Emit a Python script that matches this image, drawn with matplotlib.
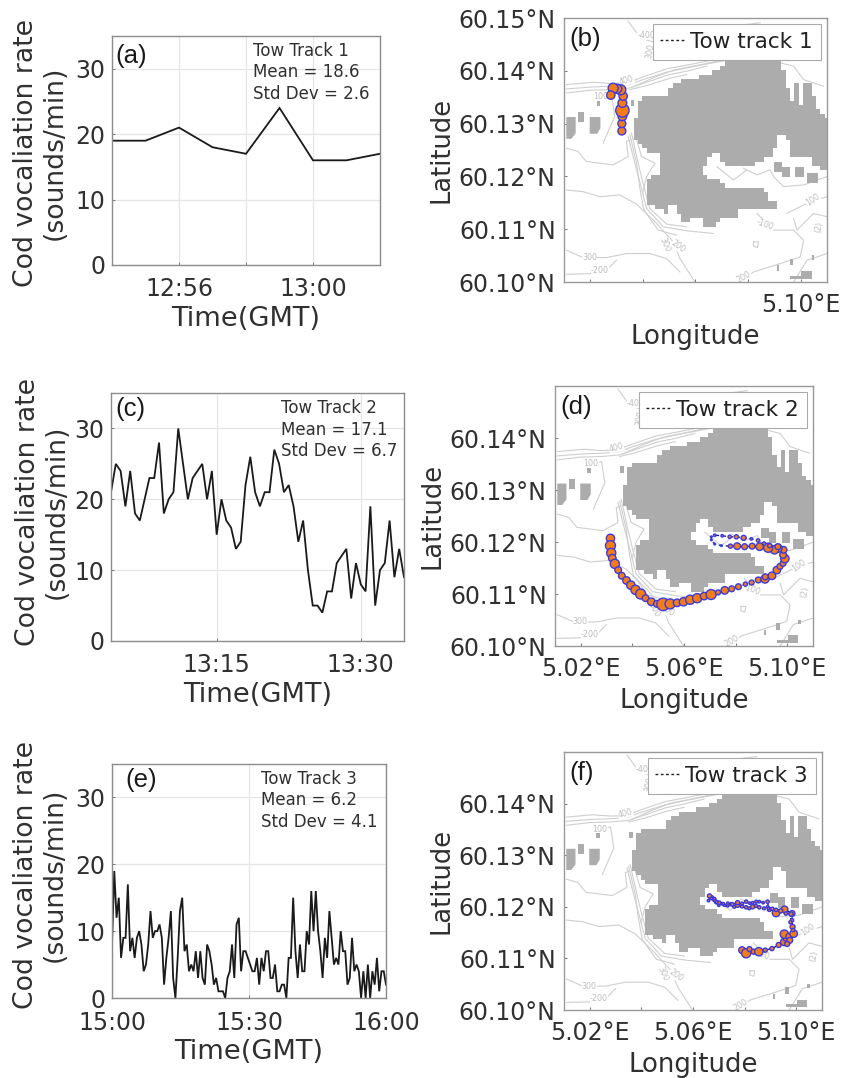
import numpy as np
import matplotlib
matplotlib.use("Agg")
import matplotlib.pyplot as plt
from matplotlib.patches import Polygon
from matplotlib.path import Path
from matplotlib.colors import ListedColormap

plt.rcParams['font.family'] = ['DejaVu Sans']
W, H = 842, 1078
TXT = '#303030'

# ---------- vocalisation-rate series ----------
rate1 = [19, 19, 21, 18, 17, 24, 16, 16, 17]
rate2 = [21, 25, 24, 19, 24, 18, 17, 20, 23, 23, 28, 18, 20, 21, 30, 25, 20, 23, 24, 25, 20, 24,
         15, 20, 17, 16, 13, 14, 22, 26, 21, 19, 21, 21, 27, 25, 21, 22, 19, 14, 17, 10, 5, 5, 4,
         7, 7, 11, 12, 13, 6, 11, 8, 7, 19, 5, 10, 11, 17, 9, 13, 9]
rate3 = [8, 19, 12, 15, 6, 9, 9, 17, 7, 9, 6, 9, 10, 8, 4, 5, 8, 13, 9, 10, 10, 11, 9, 2, 6, 9, 13,
         3, 0, 6, 13, 15, 7, 8, 4, 5, 4, 7, 3, 7, 3, 2, 8, 7, 5, 2, 3, 1, 1, 1, 0, 3, 4, 8, 3, 11,
         12, 4, 7, 7, 6, 5, 4, 4, 6, 2, 6, 4, 7, 7, 3, 3, 5, 1, 1, 2, 2, 0, 6, 6, 15, 7, 3, 8, 4,
         4, 10, 8, 16, 10, 16, 10, 7, 3, 9, 6, 13, 9, 5, 6, 5, 10, 7, 7, 2, 3, 9, 4, 5, 4, 0, 4,
         0, 5, 0, 4, 2, 6, 1, 4, 4, 2]
start_min = [12 * 60 + 54, 13 * 60 + 4, 15 * 60]
end_min = [13 * 60 + 2, 13 * 60 + 34.5, 16 * 60]
grid_min = [[12 * 60 + 56, 12 * 60 + 58, 13 * 60], [13 * 60 + 15, 13 * 60 + 30], [15 * 60, 15 * 60 + 30, 16 * 60]]
tick_min = [[12 * 60 + 56, 13 * 60], [13 * 60 + 15, 13 * 60 + 30], [15 * 60, 15 * 60 + 30, 16 * 60]]
stats = ["Tow Track 1\nMean = 18.6\nStd Dev = 2.6",
         "Tow Track 2\nMean = 17.1\nStd Dev = 6.7",
         "Tow Track 3\nMean = 6.2\nStd Dev = 4.1"]

# ---------- tow tracks: lon, lat, rate shown by bubble size ----------
t1_lon = [5.0320, 5.0320, 5.0322, 5.0322, 5.0322, 5.0325, 5.0316, 5.0302, 5.0287, 5.0278]
t1_lat = [60.1286, 60.1300, 60.1314, 60.1325, 60.1339, 60.1352, 60.1364, 60.1366, 60.1367, 60.1354]
t1_rate = [19, 19, 21, 32, 21, 20, 24, 22, 24, 20]

t2_lon = [5.0315, 5.0315, 5.0318, 5.0322, 5.0332, 5.0345, 5.0359, 5.0377, 5.0394, 5.0412, 5.0432,
          5.0451, 5.0473, 5.0495, 5.0519, 5.0546, 5.0573, 5.0598, 5.0624, 5.0651, 5.0678, 5.0705,
          5.0732, 5.0758, 5.0785, 5.0811, 5.0838, 5.0862, 5.0888, 5.0914, 5.0915, 5.0941, 5.0960,
          5.0972, 5.0984, 5.0991, 5.0984, 5.0986, 5.0964, 5.0951, 5.0926, 5.0893, 5.0864, 5.0835,
          5.0806, 5.0780, 5.0745, 5.0719, 5.0706, 5.0706, 5.0719, 5.0748, 5.0777, 5.0803, 5.0831,
          5.0861, 5.0887, 5.0910, 5.0932, 5.0964]
t2_lat = [60.1207, 60.1193, 60.1179, 60.1169, 60.1158, 60.1146, 60.1135, 60.1126, 60.1117, 60.1108,
          60.1100, 60.1092, 60.1085, 60.1081, 60.1080, 60.1081, 60.1083, 60.1085, 60.1089, 60.1092,
          60.1096, 60.1099, 60.1103, 60.1107, 60.1110, 60.1114, 60.1119, 60.1122, 60.1127, 60.1129,
          60.1133, 60.1135, 60.1146, 60.1153, 60.1159, 60.1168, 60.1175, 60.1185, 60.1188, 60.1185,
          60.1189, 60.1191, 60.1192, 60.1191, 60.1192, 60.1192, 60.1193, 60.1196, 60.1204, 60.1210,
          60.1213, 60.1212, 60.1210, 60.1210, 60.1208, 60.1206, 60.1203, 60.1197, 60.1193, 60.1191]
t2_rate = [20, 24, 22, 18, 22, 16, 16, 18, 20, 22, 24, 16, 18, 16, 30, 24, 18, 20, 22, 22, 18, 24,
           12, 18, 14, 14, 10, 12, 14, 20, 14, 18, 18, 14, 14, 20, 16, 16, 20, 20, 22, 18, 14, 14,
           16, 10, 4, 4, 4, 4, 6, 6, 8, 10, 12, 6, 8, 8, 10, 14]

t3_lon = [5.0790, 5.0806, 5.0819, 5.0835, 5.0855, 5.0880, 5.0906, 5.0932, 5.0954, 5.0960, 5.0954,
          5.0973, 5.0990, 5.0986, 5.0984, 5.0984, 5.0955, 5.0922, 5.0896, 5.0889, 5.0875, 5.0857,
          5.0843, 5.0831, 5.0818, 5.0806, 5.0790, 5.0773, 5.0760, 5.0748, 5.0735, 5.0722, 5.0712,
          5.0700, 5.0690, 5.0683, 5.0672, 5.0664, 5.0660, 5.0672, 5.0683, 5.0692, 5.0702, 5.0718,
          5.0735, 5.0752, 5.0773, 5.0790, 5.0806, 5.0820, 5.0831, 5.0845, 5.0857, 5.0872, 5.0889,
          5.0893, 5.0908, 5.0922, 5.0940, 5.0960, 5.0980, 5.0978, 5.0988, 5.0975, 5.0965]
t3_lat = [60.1116, 60.1110, 60.1118, 60.1113, 60.1113, 60.1116, 60.1119, 60.1126, 60.1132, 60.1139,
          60.1147, 60.1142, 60.1148, 60.1161, 60.1174, 60.1187, 60.1195, 60.1188, 60.1195, 60.1200,
          60.1197, 60.1199, 60.1202, 60.1200, 60.1197, 60.1199, 60.1201, 60.1203, 60.1200, 60.1205,
          60.1202, 60.1203, 60.1206, 60.1203, 60.1209, 60.1213, 60.1218, 60.1221, 60.1212, 60.1216,
          60.1216, 60.1209, 60.1208, 60.1206, 60.1207, 60.1205, 60.1208, 60.1206, 60.1210, 60.1207,
          60.1208, 60.1210, 60.1210, 60.1208, 60.1210, 60.1197, 60.1196, 60.1194, 60.1192, 60.1187,
          60.1186, 60.1170, 60.1155, 60.1135, 60.1128]
t3_rate = [16, 22, 12, 12, 20, 10, 10, 12, 18, 14, 20, 16, 18, 12, 8, 14, 16, 18, 10, 6, 7, 8, 8,
           10, 7, 8, 8, 10, 7, 8, 6, 6, 6, 6, 8, 8, 9, 10, 6, 6, 6, 7, 8, 6, 6, 8, 10, 7, 8, 6, 6,
           7, 6, 6, 8, 6, 8, 8, 10, 8, 10, 8, 8, 14, 12]

# ---------- base map, digitised in reference-map units (converted to lon/lat below) ----------
shoal_main = [(693, 172), (708, 172), (708, 190), (722, 190), (722, 210), (733, 210), (733, 260), (745, 260),
              (745, 300), (757, 300), (757, 255), (780, 255), (780, 322), (792, 322), (792, 255), (815, 255),
              (815, 290), (822, 290), (822, 325), (845, 325), (845, 340), (860, 350), (860, 515), (835, 515),
              (835, 498), (810, 498), (810, 470), (752, 470), (750, 435), (735, 410), (720, 405), (705, 440),
              (690, 470), (660, 485), (640, 497), (610, 500), (555, 500), (540, 465), (525, 455), (505, 470),
              (505, 490), (485, 520), (503, 522), (510, 540), (545, 545), (560, 565), (690, 570), (690, 600),
              (708, 600), (708, 630), (625, 630), (600, 630), (585, 650), (550, 650), (525, 680), (485, 680),
              (485, 650), (450, 650), (450, 662), (430, 662), (430, 645), (405, 645), (405, 615), (380, 615),
              (380, 635), (350, 630), (335, 615), (315, 610), (315, 575), (322, 535), (355, 520), (355, 460),
              (310, 450), (295, 425), (283, 410), (290, 320), (320, 290), (385, 285), (385, 265), (440, 238),
              (470, 238), (470, 220), (487, 235), (535, 210), (535, 200), (565, 188), (693, 188)]
shoal_small = [[(700, 487), (725, 487), (725, 500), (748, 500), (748, 532), (725, 532), (725, 517), (700, 517)],
               [(765, 500), (790, 500), (790, 532), (765, 532)],
               [(800, 520), (832, 520), (832, 550), (800, 550)],
               [(80, 352), (108, 352), (108, 400), (95, 417), (80, 417)],
               [(150, 352), (182, 352), (182, 385), (172, 402), (150, 402)],
               [(116, 338), (133, 338), (133, 368), (116, 368)],
               [(748, 775), (758, 775), (758, 795), (748, 795)],
               [(710, 795), (717, 795), (717, 812), (710, 812)],
               [(815, 765), (822, 765), (822, 778), (815, 778)],
               [(783, 813), (815, 813), (815, 836), (750, 836), (750, 828), (783, 828)],
               [(172, 305), (182, 305), (182, 320), (172, 320)],
               [(272, 300), (282, 300), (282, 320), (272, 320)]]
contours = [
    [(80, 255), (160, 248), (215, 252), (262, 250), (310, 232), (380, 208), (450, 195), (535, 178), (600, 165), (700, 160)],
    [(80, 268), (160, 262), (215, 260), (265, 256), (310, 240), (380, 218), (450, 203), (535, 187), (570, 180)],
    [(80, 280), (150, 272), (215, 270), (270, 265), (315, 250), (385, 226), (440, 215), (500, 200)],
    [(270, 270), (320, 258), (390, 236), (440, 225)],
    [(280, 262), (340, 235), (400, 212), (470, 198), (545, 182)],
    [(265, 65), (290, 100), (320, 122), (350, 130), (390, 110), (440, 92), (600, 78), (660, 70)],
    [(330, 175), (400, 150), (480, 130), (530, 115), (600, 110)],
    [(80, 445), (115, 455), (140, 485), (220, 495), (265, 470), (260, 425), (272, 420)],
    [(80, 570), (130, 575), (180, 590), (240, 585), (290, 612), (350, 670), (400, 725), (420, 775), (465, 845)],
    [(265, 410), (285, 490), (305, 565), (320, 625), (370, 680), (440, 692), (520, 700)],
    [(275, 400), (295, 490), (312, 560), (330, 625), (380, 672), (440, 680)],
    [(270, 405), (290, 490), (300, 565), (312, 630), (355, 690), (410, 705)],
    [(285, 400), (305, 470), (345, 490), (320, 530), (308, 580)],
    [(80, 750), (130, 772), (200, 772), (260, 760), (330, 760), (380, 775), (420, 815)],
    [(80, 822), (150, 820), (200, 810), (230, 780)],
    [(650, 640), (700, 690), (760, 690), (790, 720), (780, 770), (720, 790), (640, 815), (600, 845)],
    [(740, 640), (800, 610), (860, 590)],
    [(760, 655), (770, 690), (820, 640), (860, 650)],
    [(610, 505), (650, 525), (690, 510), (700, 530), (730, 560), (790, 555), (860, 530)],
    [(165, 300), (215, 285), (225, 350), (190, 430)],
    [(720, 190), (760, 200), (790, 240), (850, 260)],
    [(760, 845), (800, 780), (860, 760)],
    [(530, 500), (580, 540), (620, 510)],
    [(640, 725), (655, 725), (652, 742), (640, 738), (640, 725)],
]
contour_labels = [("-400", 320, 108, 0), ("300", 332, 155, 80), ("400", 260, 243, 15), ("100", 183, 292, 0),
                  ("300", 150, 772, 0), ("-200", 180, 810, 0), ("300", 375, 735, -65), ("200", 415, 738, -35),
                  ("-100", 675, 675, -20), ("100", 818, 600, 35), ("(2)", 835, 680, 80), ("200", 612, 830, 30)]


def map_lon(x):
    return 5.01 + (np.asarray(x, float) - 73) / 7870


def map_lat(y):
    return 60.15 - (np.asarray(y, float) - 56) / 15780


def ax_px(l, t, r, b):
    return fig.add_axes([l / W, 1 - b / H, (r - l) / W, (b - t) / H])


fig = plt.figure(figsize=(W / 100, H / 100), dpi=100)

# ---------- time-series panels ----------
boxes_ts = [(112, 36, 380, 265), (111, 393, 404, 641), (112, 764, 386, 998)]
letters_ts = ["(a)", "(c)", "(e)"]
letter_x = [0.012, 0.014, 0.05]
letter_y = [0.965, 0.985, 0.985]
stat_x = [0.526, 0.58, 0.545]
label_x = [-0.165, -0.14, -0.16]
label_y = [0.49, 0.52, 0.525]
rates = [rate1, rate2, rate3]
for i, box in enumerate(boxes_ts):
    ax = ax_px(*box)
    x = np.linspace(start_min[i], end_min[i], len(rates[i]))
    ax.plot(x, rates[i], color='#1a1a1a', lw=1.3, solid_joinstyle='miter')
    ax.set_xlim(start_min[i], end_min[i])
    ax.set_ylim(0, 35)
    ax.set_yticks([0, 10, 20, 30])
    ax.set_xticks(grid_min[i])
    ax.set_xticklabels(["%d:%02d" % (m // 60, m % 60) if m in tick_min[i] else "" for m in grid_min[i]])
    ax.grid(True, color='#e6e6e6', lw=0.9)
    ax.tick_params(axis='both', direction='in', length=2.5, width=0.7, color='#777777',
                   labelsize=17, labelcolor=TXT, pad=5)
    ax.tick_params(axis='x', pad=9)
    for s in ax.spines.values():
        s.set_color('#8c8c8c')
        s.set_linewidth(1.0)
    ax.set_xlabel("Time(GMT)", fontsize=19.6, color=TXT, labelpad=3)
    ax.set_ylabel("Cod vocaliation rate\n(sounds/min)", fontsize=19.2, color=TXT,
                  linespacing=1.15)
    ax.yaxis.set_label_coords(label_x[i], label_y[i])
    ax.text(letter_x[i], letter_y[i], letters_ts[i], transform=ax.transAxes, fontsize=18.5,
            family='Liberation Sans', va='top', ha='left', color='#1a1a1a')
    ax.text(stat_x[i], 0.975, stats[i], transform=ax.transAxes, fontsize=12, va='top', ha='left',
            color=TXT, linespacing=1.25)

# ---------- map panels ----------
boxes_map = [(564, 18, 827, 282), (555, 386, 813, 646), (564, 752, 822, 1010)]
letters_map = ["(b)", "(d)", "(f)"]
legends = ["Tow track 1", "Tow track 2", "Tow track 3"]
tracks = [(t1_lon, t1_lat, t1_rate), (t2_lon, t2_lat, t2_rate), (t3_lon, t3_lat, t3_rate)]
lon_ticks = np.arange(5.02, 5.101, 0.02)
lon_labels = [["", "", "", "", "5.10°E"], ["5.02°E", "", "5.06°E", "", "5.10°E"], ["5.02°E", "", "5.06°E", "", "5.10°E"]]
lat_ticks = [60.10, 60.11, 60.12, 60.13, 60.14, 60.15]
lat_labels = [["60.10°N", "60.11°N", "60.12°N", "60.13°N", "60.14°N", "60.15°N"],
              ["60.10°N", "60.11°N", "60.12°N", "60.13°N", "60.14°N", ""],
              ["60.10°N", "60.11°N", "60.12°N", "60.13°N", "60.14°N", ""]]

# blocky shoal mask: the digitised outline sampled on the bathymetry grid
cell = 13.0
gx = np.arange(73, 872, cell)
gy = np.arange(56, 856, cell)
cx, cy = np.meshgrid((gx[:-1] + gx[1:]) / 2, (gy[:-1] + gy[1:]) / 2)
inside = Path(shoal_main).contains_points(np.column_stack([cx.ravel(), cy.ravel()])).reshape(cx.shape)
shoal_mask = np.ma.masked_where(~inside, np.ones(cx.shape))

for i, box in enumerate(boxes_map):
    ax = ax_px(*box)
    ax.set_xlim(5.01, 5.11)
    ax.set_ylim(60.10, 60.15)
    for c in contours:
        xs, ys = zip(*c)
        ax.plot(map_lon(xs), map_lat(ys), color='#cfcfcf', lw=0.8, zorder=1)
    for txt, x, y, rot in contour_labels:
        ax.text(map_lon(x), map_lat(y), txt, fontsize=5.8, color='#bdbdbd', rotation=rot,
                ha='center', va='center', zorder=1.5,
                bbox=dict(fc='white', ec='none', pad=0.2))
    ax.pcolormesh(map_lon(gx), map_lat(gy), shoal_mask, cmap=ListedColormap(['#acacac']),
                  zorder=2, edgecolors='none', linewidth=0, antialiased=False)
    for poly in shoal_small:
        xs, ys = zip(*poly)
        ax.add_patch(Polygon(np.column_stack([map_lon(xs), map_lat(ys)]), closed=True,
                             fc='#acacac', ec='none', zorder=2))
    lon, lat, rate = tracks[i]
    ax.plot(lon, lat, color='#1414b4', lw=1.0, ls=(0, (3, 2)), zorder=3)
    ax.scatter(lon, lat, s=(0.3 * np.asarray(rate, float)) ** 2, c='#f57c14', edgecolors='#3a3ae0',
               linewidths=1.0, zorder=4)
    ax.set_xticks(lon_ticks)
    ax.set_xticklabels(lon_labels[i])
    ax.set_yticks(lat_ticks)
    ax.set_yticklabels(lat_labels[i])
    ax.tick_params(axis='both', direction='in', length=2.5, width=0.7, color='#777777',
                   labelsize=17, labelcolor=TXT, pad=6)
    ax.tick_params(axis='x', pad=8)
    for s in ax.spines.values():
        s.set_color('#999999')
        s.set_linewidth(1.0)
    ax.set_xlabel("Longitude", fontsize=18.7, color=TXT, labelpad=5)
    ax.set_ylabel("Latitude", fontsize=18.5, color=TXT, labelpad=3)
    ax.text(0.02, 0.965, letters_map[i], transform=ax.transAxes, fontsize=18.5,
            family='Liberation Sans', va='top', ha='left', color='#1a1a1a', zorder=6)
    proxy, = ax.plot([], [], color='#222222', lw=1.0, ls=(0, (2, 1.8)))
    leg = ax.legend([proxy], [legends[i]], loc='upper right', fontsize=15.5, handlelength=1.1,
                    handletextpad=0.3, borderpad=0.35, borderaxespad=0.3, fancybox=False,
                    framealpha=1, edgecolor='#aaaaaa', labelcolor='#222222')
    leg.get_frame().set_linewidth(0.8)
    leg.set_zorder(5)

fig.savefig("out.png", dpi=100, facecolor='white')
